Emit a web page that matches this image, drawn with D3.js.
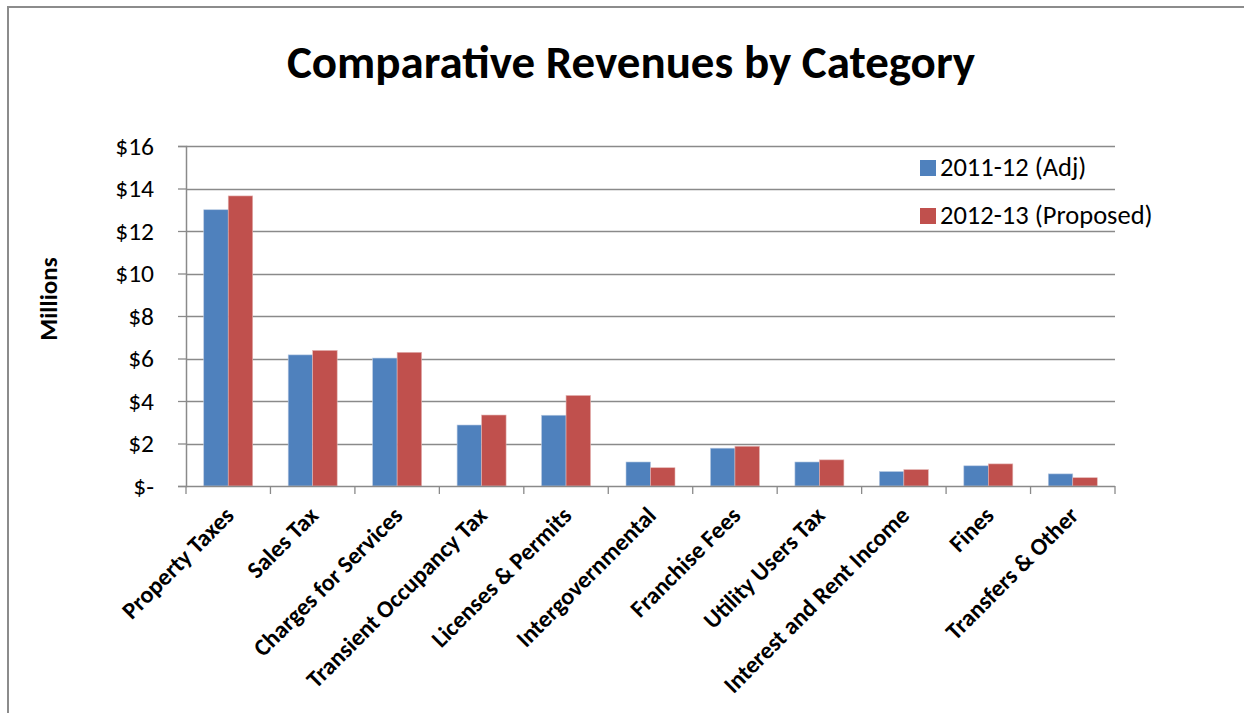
<!DOCTYPE html>
<html>
<head>
<meta charset="utf-8">
<script src="https://cdn.jsdelivr.net/npm/d3@7"></script>
<style>
  html, body { margin: 0; padding: 0; background: #fff; }
  svg { display: block; }
  text { font-family: Carlito, Calibri, Lato, "Open Sans", sans-serif; fill: #000; }
</style>
</head>
<body>
<svg id="chart" width="1244" height="713"></svg>
<script>
// Revenue categories and values (millions of dollars)
const categories = [
  "Property Taxes", "Sales Tax", "Charges for Services", "Transient Occupancy Tax",
  "Licenses & Permits", "Intergovernmental", "Franchise Fees", "Utility Users Tax",
  "Interest and Rent Income", "Fines", "Transfers & Other"
];
const seriesNames = ["2011-12 (Adj)", "2012-13 (Proposed)"];
const adj2011 =      [13.0, 6.17, 6.02, 2.87, 3.33, 1.13, 1.78, 1.13, 0.68, 0.95, 0.57];
const proposed2012 = [13.65, 6.38, 6.29, 3.34, 4.26, 0.86, 1.87, 1.23, 0.77, 1.04, 0.39];
const yTicks = [0, 2, 4, 6, 8, 10, 12, 14, 16];
const seriesColors = ["#4F81BD", "#C0504D"];

const svg = d3.select("#chart");
const W = 1244, H = 713;
const plot = { left: 186, right: 1115, top: 146, bottom: 486 };
const gridColor = "#8a8a8a";

// outer chart frame (open to the right and bottom)
svg.append("path")
  .attr("d", `M8,${H + 2} L8,7 L${W + 2},7`)
  .attr("fill", "none")
  .attr("stroke", "#8c8c8c")
  .attr("stroke-width", 2);

const x = d3.scaleBand()
  .domain(categories)
  .range([plot.left, plot.right])
  .paddingInner(0.42)
  .paddingOuter(0.21);

const xs = d3.scaleBand()
  .domain(seriesNames)
  .range([0, x.bandwidth()]);

const y = d3.scaleLinear().domain([0, 16]).range([plot.bottom, plot.top]);

// horizontal gridlines
svg.append("g")
  .selectAll("line")
  .data(yTicks.filter(d => d > 0))
  .join("line")
  .attr("x1", plot.left)
  .attr("x2", plot.right)
  .attr("y1", d => Math.round(y(d)) + 0.5)
  .attr("y2", d => Math.round(y(d)) + 0.5)
  .attr("stroke", gridColor)
  .attr("stroke-width", 1.3);

// bars
const rows = categories.map((c, i) => ({ cat: c, values: [adj2011[i], proposed2012[i]] }));
svg.append("g")
  .selectAll("g")
  .data(rows)
  .join("g")
  .attr("transform", d => `translate(${x(d.cat)},0)`)
  .selectAll("rect")
  .data(d => d.values.map((v, k) => ({ v, k })))
  .join("rect")
  .attr("x", d => xs(seriesNames[d.k]))
  .attr("width", xs.bandwidth())
  .attr("y", d => y(d.v))
  .attr("height", d => y(0) - y(d.v))
  .attr("fill", d => seriesColors[d.k])
  .attr("stroke", d => d.k === 0 ? "#b7c9e2" : "#e3b3b2")
  .attr("stroke-width", 0.6);

// y axis
const yAxis = d3.axisLeft(y)
  .tickValues(yTicks)
  .tickSize(8)
  .tickPadding(24)
  .tickFormat(d => d === 0 ? "$-" : "$" + d);
const gy = svg.append("g")
  .attr("transform", `translate(${plot.left},0)`)
  .call(yAxis);
gy.select(".domain").attr("stroke", gridColor).attr("stroke-width", 1.5);
gy.selectAll(".tick line").attr("stroke", gridColor).attr("stroke-width", 1.3);
gy.selectAll(".tick text")
  .style("font-size", "25.5px")
  .style("font-family", "Carlito, Calibri, Lato, sans-serif")
  .attr("fill", "#000");

// x axis with boundary ticks between categories
const gx = svg.append("g").attr("transform", `translate(0,${plot.bottom})`);
gx.append("line")
  .attr("x1", plot.left).attr("x2", plot.right)
  .attr("y1", 0.5).attr("y2", 0.5)
  .attr("stroke", gridColor).attr("stroke-width", 1.5);
const step = x.step();
const boundaries = d3.range(categories.length + 1).map(i => plot.left + i * step);
gx.selectAll(".bt")
  .data(boundaries)
  .join("line")
  .attr("class", "bt")
  .attr("x1", d => d).attr("x2", d => d)
  .attr("y1", 0).attr("y2", 8)
  .attr("stroke", gridColor).attr("stroke-width", 1.3);

gx.selectAll(".xl")
  .data(categories)
  .join("text")
  .attr("class", "xl")
  .attr("transform", d => `translate(${x(d) + x.bandwidth() / 2 + 7},${31}) rotate(-45)`)
  .attr("text-anchor", "end")
  .style("font-size", "24px")
  .style("font-weight", "bold")
  .text(d => d);

// y axis title
svg.append("text")
  .attr("transform", `translate(57,299) rotate(-90)`)
  .attr("text-anchor", "middle")
  .style("font-size", "25px")
  .style("font-weight", "bold")
  .text("Millions");

// chart title
const title = svg.append("text")
  .attr("x", 631)
  .attr("y", 78)
  .attr("text-anchor", "middle")
  .style("font-size", "40px")
  .style("font-weight", "bold")
  .text("Comparative Revenues by Category");
const tl = title.node().getComputedTextLength();
title.style("font-size", (40 * 688 / tl).toFixed(1) + "px");

// legend
const legend = svg.append("g").attr("transform", "translate(920,0)");
const legendRows = [176, 224];
seriesNames.forEach((name, k) => {
  legend.append("rect")
    .attr("x", 0)
    .attr("y", legendRows[k] - 16)
    .attr("width", 16)
    .attr("height", 16)
    .attr("fill", seriesColors[k]);
  legend.append("text")
    .attr("x", 20)
    .attr("y", legendRows[k])
    .style("font-size", "26.5px")
    .text(name);
});
</script>
</body>
</html>
